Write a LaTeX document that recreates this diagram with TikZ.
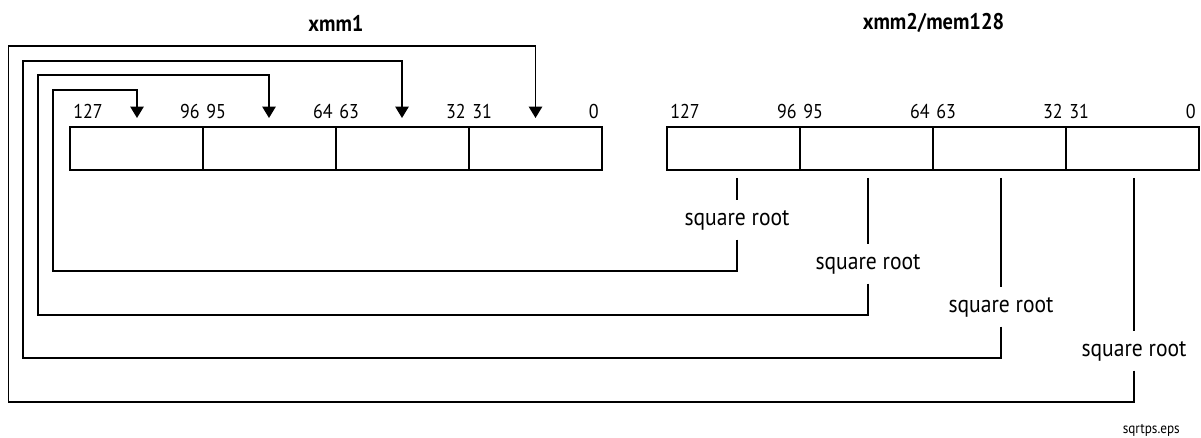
\documentclass[tikz,border=0pt]{standalone}
\usepackage{fontspec}
\setmainfont{PT Sans}[FakeStretch=0.9]
\usetikzlibrary{arrows.meta,calc}
\begin{document}
\begin{tikzpicture}[x=0.75pt,y=-0.75pt,
  cell/.style={draw,line width=1.7pt,minimum width=99.75pt,minimum height=32.5pt,inner sep=0pt,outer sep=0pt},
  conn/.style={line width=1.1pt},
  arr/.style={conn,-{Triangle[length=8.5pt,width=10pt]}},
  bitnum/.style={font=\fontsize{15}{17}\selectfont,inner sep=0pt},
  sq/.style={font=\fontsize{18}{21}\selectfont,inner sep=0pt,minimum height=29pt},
  ttl/.style={font=\bfseries\fontsize{17}{20}\selectfont,inner sep=0pt},
  fname/.style={font=\fontsize{11}{13}\selectfont,inner sep=0pt}]
\useasboundingbox (0,0) rectangle (1201,438);

% titles
\node[ttl] (t1) at (336,23) {xmm1};
\node[ttl] (t2) at (933.5,23) {xmm2/mem128};

% left register cells
\node[cell] (L1) at (136.5,148.5) {};
\node[cell] (L2) at (269.5,148.5) {};
\node[cell] (L3) at (402.5,148.5) {};
\node[cell] (L4) at (535.5,148.5) {};
% right register cells
\node[cell] (R1) at (733.5,148.5) {};
\node[cell] (R2) at (866.5,148.5) {};
\node[cell] (R3) at (999.5,148.5) {};
\node[cell] (R4) at (1132.5,148.5) {};

% bit numbers
\foreach \c/\a/\b in {L1/127/96,L2/95/64,L3/63/32,L4/31/0,R1/127/96,R2/95/64,R3/63/32,R4/31/0}{
  \node[bitnum,anchor=base west] (\c a) at ($(\c.north west)+(3,-8)$) {\a};
  \node[bitnum,anchor=base east] (\c b) at ($(\c.north east)+(-3,-8)$) {\b};
}

% square root labels
\node[sq] (s1) at (737,220) {square root};
\node[sq] (s2) at (868,264) {square root};
\node[sq] (s3) at (1001,307) {square root};
\node[sq] (s4) at (1134,351) {square root};

% arrow targets
\coordinate (a1) at (137,118);
\coordinate (a2) at (269,118);
\coordinate (a3) at (402,118);
\coordinate (a4) at (535.5,118);

% stubs from source cells down to labels
\draw[conn] (s1.north |- 0,178) -- (s1.north);
\draw[conn] (s2.north |- 0,178) -- (s2.north);
\draw[conn] (s3.north |- 0,178) -- (s3.north);
\draw[conn] (s4.north |- 0,178) -- (s4.north);

% loops back to destination cells
\draw[arr] (s1.south) -- (s1.south |- 0,271) -| (53,90) -| (a1);
\draw[arr] (s2.south) -- (s2.south |- 0,315) -| (38,75) -| (a2);
\draw[arr] (s3.south) -- (s3.south |- 0,358) -| (23,61) -| (a3);
\draw[arr] (s4.south) -- (s4.south |- 0,402) -| (8.5,46) -| (a4);

\node[fname,anchor=east] (fn) at (1180,430) {sqrtps.eps};
\end{tikzpicture}
\end{document}
